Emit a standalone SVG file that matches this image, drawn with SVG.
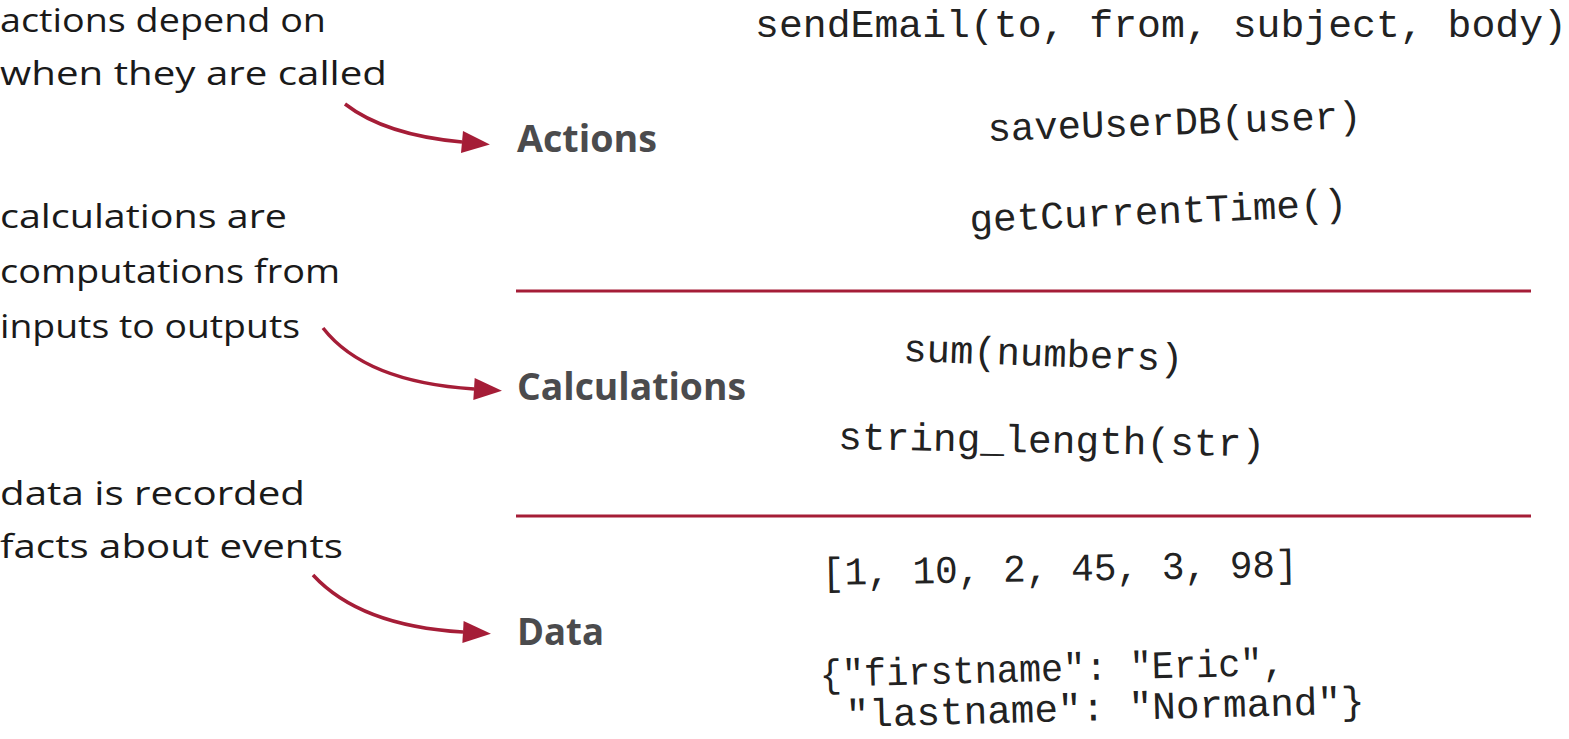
<svg xmlns="http://www.w3.org/2000/svg" width="1569" height="739" viewBox="0 0 1569 739">
<style>
.note{font-family:"Open Sans","Noto Sans",sans-serif;font-size:32px;fill:#1a1a1a}
.cat{font-family:"Open Sans","Noto Sans",sans-serif;font-weight:bold;font-size:37px;fill:#4b4b4d}
.code{font-family:"Liberation Mono","DejaVu Sans Mono",monospace;font-size:39px;fill:#222}
.arr{fill:none;stroke:#a51d37;stroke-width:3.5}
.sep{stroke:#a51d37;stroke-width:3}
</style>
<defs>
<marker id="ah" markerWidth="10" markerHeight="10" refX="0" refY="5" orient="auto" markerUnits="userSpaceOnUse" viewBox="0 0 10 10" overflow="visible">
<path d="M0,-6 L28,5 L0,16 Z" fill="#a51d37"/>
</marker>
</defs>
<rect width="1569" height="739" fill="#fff"/>
<g id="notes">
<text class="note" x="0" y="32" textLength="326" lengthAdjust="spacingAndGlyphs">actions depend on</text>
<text class="note" x="0" y="85" textLength="387" lengthAdjust="spacingAndGlyphs">when they are called</text>
<text class="note" x="0" y="228" textLength="287" lengthAdjust="spacingAndGlyphs">calculations are</text>
<text class="note" x="0" y="283" textLength="340" lengthAdjust="spacingAndGlyphs">computations from</text>
<text class="note" x="0" y="338" textLength="300" lengthAdjust="spacingAndGlyphs">inputs to outputs</text>
<text class="note" x="0" y="505" textLength="305" lengthAdjust="spacingAndGlyphs">data is recorded</text>
<text class="note" x="0" y="558" textLength="343" lengthAdjust="spacingAndGlyphs">facts about events</text>
</g>
<g id="connectors">
<path class="arr" d="M345,104 Q385,135 462,142" marker-end="url(#ah)"/>
<path class="arr" d="M323,328 Q365,382 474,389" marker-end="url(#ah)"/>
<path class="arr" d="M313,575 Q360,626 463,632" marker-end="url(#ah)"/>
<line class="sep" x1="516" y1="291" x2="1531" y2="291"/>
<line class="sep" x1="516" y1="516" x2="1531" y2="516"/>
</g>
<g id="actions">
<text class="cat" x="517" y="152" textLength="140" lengthAdjust="spacingAndGlyphs">Actions</text>
<text class="code" x="755" y="37" textLength="812" lengthAdjust="spacingAndGlyphs">sendEmail(to, from, subject, body)</text>
<text class="code" x="988" y="141" textLength="374" lengthAdjust="spacingAndGlyphs" transform="rotate(-2 988 141)">saveUserDB(user)</text>
<text class="code" x="970" y="232" textLength="378" lengthAdjust="spacingAndGlyphs" transform="rotate(-2.5 970 232)">getCurrentTime()</text>
</g>
<g id="calculations">
<text class="cat" x="517" y="400" textLength="229" lengthAdjust="spacingAndGlyphs">Calculations</text>
<text class="code" x="903" y="361" textLength="280" lengthAdjust="spacingAndGlyphs" transform="rotate(2 903 361)">sum(numbers)</text>
<text class="code" x="838" y="449" textLength="427" lengthAdjust="spacingAndGlyphs" transform="rotate(1 838 449)">string_length(str)</text>
</g>
<g id="data">
<text class="cat" x="517" y="645" textLength="87" lengthAdjust="spacingAndGlyphs">Data</text>
<text class="code" x="822" y="585" textLength="476" lengthAdjust="spacingAndGlyphs" transform="rotate(-1 822 585)">[1, 10, 2, 45, 3, 98]</text>
<text class="code" x="820" y="687" textLength="465" lengthAdjust="spacingAndGlyphs" transform="rotate(-1.5 820 687)">{"firstname": "Eric",</text>
<text class="code" x="846" y="727" textLength="519" lengthAdjust="spacingAndGlyphs" transform="rotate(-1.5 846 727)">"lastname": "Normand"}</text>
</g>
</svg>
